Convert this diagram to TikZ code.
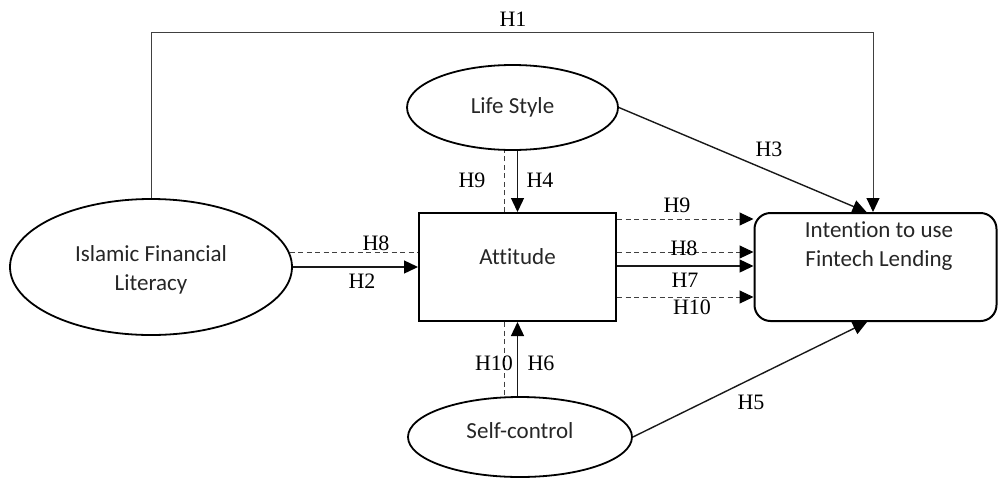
\documentclass[tikz,border=0pt]{standalone}
\usepackage{fontspec}
\setmainfont{Liberation Serif}
\newfontfamily\nodefont[Ligatures=NoCommon]{Carlito}
\usetikzlibrary{shapes.geometric,arrows.meta}

\begin{document}
\begin{tikzpicture}[x=1pt,y=-1pt,
  every node/.style={inner sep=0pt},
  nodetext/.style={font=\nodefont\fontsize{23}{29}\selectfont, text=black!85, align=center},
  construct/.style={draw, line width=1.8pt, ellipse, nodetext},
  boxnode/.style={draw, line width=2pt},
  lbl/.style={font=\fontsize{22}{26}\selectfont},
  link/.style={line width=1.4pt, black!90},
  dlink/.style={line width=1pt, black!75, dash pattern=on 5pt off 3.5pt},
  tip/.style={-{Triangle[length=14pt,width=13pt,black]}},
]
\useasboundingbox (0,0) rectangle (998,477);

% constructs
\node[construct, minimum width=282pt, minimum height=136pt] (ifl) at (151,267) {};
\node[nodetext] (ifl-t) at (151,270) {Islamic Financial\\Literacy};
\node[construct, minimum width=211pt, minimum height=85pt] (ls) at (512.5,107.5) {Life Style};
\node[construct, minimum width=224pt, minimum height=80pt] (sc) at (520,437) {};
\node[nodetext] (sc-t) at (520,431) {Self-control};
\node[boxnode, minimum width=197pt, minimum height=108pt] (att) at (517.5,267) {};
\node[nodetext] (att-t) at (517.5,257) {Attitude};
\node[boxnode, rounded corners=16pt, minimum width=242pt, minimum height=108pt] (int) at (875.5,267) {};
\node[nodetext, text height=15pt] (int-t) at (879,261) {\fontsize{23}{31}\selectfont Intention to use\\Fintech Lending};

% direct effect H1 over the top
\draw[line width=1pt, black!75, tip] (ifl.north) -- ++(0,-166) -| ([xshift=-2.5pt]int.north);

% Islamic Financial Literacy -> Attitude
\draw[dlink] (ifl.6) -- (ifl.6 -| att.west);
\draw[link, tip] (ifl.east) -- (ifl.east -| att.west);

% Life Style -> Attitude / Intention
\draw[link, tip] (ls.south -| att.north) -- (att.north);
\draw[dlink] ([xshift=-13.5pt]att.north) -- ([xshift=-13.5pt]att.north |- ls.south);
\draw[link, tip] (ls.east) -- ([xshift=-9pt]int.north);

% Self-control -> Attitude / Intention
\draw[link, tip] (sc.north -| att.south) -- (att.south);
\draw[dlink] ([xshift=-13.5pt]att.south) -- ([xshift=-13.5pt]att.south |- sc.north);
\draw[link, tip] (sc.east) -- ([xshift=-8.5pt]int.south);

% Attitude -> Intention
\draw[dlink, tip] ([yshift=48pt]att.east) -- ([yshift=48pt]int.west);
\draw[dlink, tip] ([yshift=15pt]att.east) -- ([yshift=15pt]int.west);
\draw[link, tip] ([yshift=1pt]att.east) -- ([yshift=1pt]int.west);
\draw[dlink, tip] ([yshift=-30pt]att.east) -- ([yshift=-30pt]int.west);

% hypothesis labels
\node[lbl] (h1) at (513,19) {H1};
\node[lbl] (h9a) at (472,180) {H9};
\node[lbl] (h4) at (540,180) {H4};
\node[lbl] (h3) at (769,149) {H3};
\node[lbl] (h8a) at (376,243) {H8};
\node[lbl] (h2) at (362,281) {H2};
\node[lbl] (h9b) at (677,205) {H9};
\node[lbl] (h8b) at (684,248) {H8};
\node[lbl] (h7) at (685,280) {H7};
\node[lbl] (h10a) at (692,307) {H10};
\node[lbl] (h10b) at (494,363) {H10};
\node[lbl] (h6) at (541,363) {H6};
\node[lbl] (h5) at (751,402) {H5};
\end{tikzpicture}
\end{document}
